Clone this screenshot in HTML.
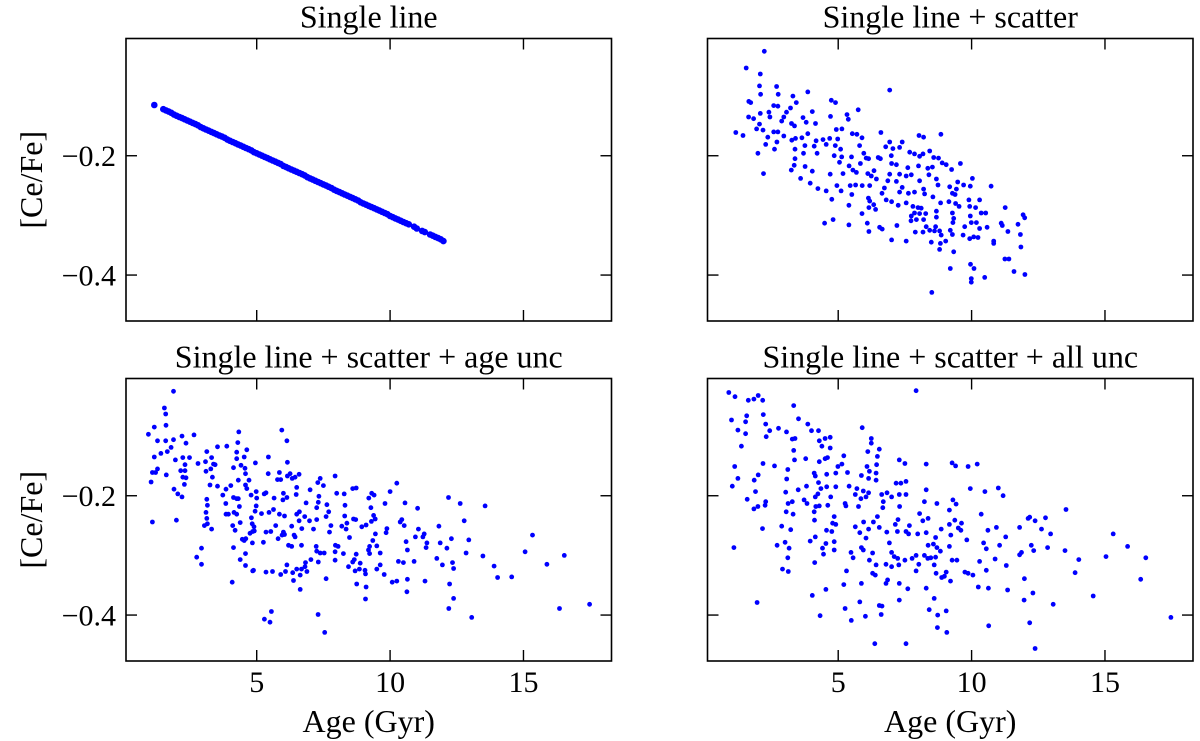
<!DOCTYPE html>
<html><head><meta charset="utf-8"><style>
html,body{margin:0;padding:0;background:#fff;}
svg{display:block;}
text{font-family:"Liberation Serif","DejaVu Serif","Noto Serif CJK SC",serif;fill:#000;}
</style></head><body>
<svg id="fig" width="1200" height="741" viewBox="0 0 1200 741" xmlns="http://www.w3.org/2000/svg" font-family="'Liberation Serif','DejaVu Serif',serif"></svg>
<script>
// ---- data ----
const lineAges=[1.16,1.5,1.6,1.7,1.8,1.9,2.0,2.1,2.2,2.3,2.4,2.5,2.6,2.7,2.8,2.9,3.0,3.1,3.2,3.3,3.4,3.5,3.6,3.7,3.8,3.9,4.0,4.1,4.2,4.3,4.4,4.5,4.6,4.7,4.8,4.9,5.0,5.1,5.2,5.3,5.4,5.5,5.6,5.7,5.8,5.9,6.0,6.1,6.2,6.3,6.4,6.5,6.6,6.7,6.8,6.9,7.0,7.1,7.2,7.3,7.4,7.5,7.6,7.7,7.8,7.9,8.0,8.1,8.2,8.3,8.4,8.5,8.6,8.7,8.8,8.9,9.0,9.1,9.2,9.3,9.4,9.5,9.6,9.7,9.8,9.9,10.0,10.1,10.2,10.3,10.4,10.5,10.6,10.7,10.9,11.0,11.2,11.3,11.5,11.6,11.7,11.8,11.9,12.0];
const lineVals=[-0.115,-0.122,-0.124,-0.126,-0.128,-0.131,-0.133,-0.135,-0.137,-0.139,-0.141,-0.143,-0.145,-0.147,-0.149,-0.152,-0.154,-0.156,-0.158,-0.160,-0.162,-0.164,-0.166,-0.168,-0.170,-0.173,-0.175,-0.177,-0.179,-0.181,-0.183,-0.185,-0.187,-0.189,-0.191,-0.194,-0.196,-0.198,-0.200,-0.202,-0.204,-0.206,-0.208,-0.210,-0.212,-0.214,-0.217,-0.219,-0.221,-0.223,-0.225,-0.227,-0.229,-0.231,-0.233,-0.236,-0.238,-0.240,-0.242,-0.244,-0.246,-0.248,-0.250,-0.252,-0.254,-0.257,-0.259,-0.261,-0.263,-0.265,-0.267,-0.269,-0.271,-0.273,-0.275,-0.278,-0.280,-0.282,-0.284,-0.286,-0.288,-0.290,-0.292,-0.294,-0.296,-0.298,-0.301,-0.303,-0.305,-0.307,-0.309,-0.311,-0.313,-0.315,-0.319,-0.322,-0.326,-0.328,-0.332,-0.334,-0.336,-0.338,-0.340,-0.343];

const scatterPts=[[2.23,-0.025],[1.55,-0.053],[2.08,-0.063],[2.05,-0.083],[2.69,-0.084],[2.09,-0.097],[2.75,-0.097],[3.86,-0.093],[3.3,-0.1],[3.43,-0.111],[1.65,-0.109],[1.72,-0.111],[2.58,-0.116],[2.74,-0.117],[3.21,-0.12],[2.4,-0.127],[2.08,-0.129],[1.64,-0.135],[1.83,-0.138],[2.44,-0.135],[3.06,-0.127],[2.96,-0.135],[2.88,-0.142],[2.05,-0.147],[1.94,-0.155],[2.18,-0.157],[1.16,-0.161],[1.43,-0.166],[2.58,-0.16],[2.74,-0.16],[2.36,-0.169],[2.7,-0.177],[2.96,-0.167],[2.28,-0.181],[2.61,-0.189],[1.99,-0.196],[2.2,-0.23],[3.25,-0.146],[3.36,-0.15],[3.68,-0.136],[3.8,-0.144],[4.03,-0.126],[4.15,-0.146],[3.86,-0.163],[3.4,-0.171],[3.64,-0.17],[3.26,-0.174],[3.38,-0.189],[3.75,-0.183],[3.7,-0.196],[4.1,-0.184],[4.17,-0.175],[4.21,-0.196],[3.38,-0.205],[3.35,-0.216],[3.24,-0.224],[3.76,-0.218],[4.03,-0.226],[3.59,-0.238],[3.95,-0.246],[4.24,-0.255],[4.55,-0.259],[4.49,-0.313],[4.81,-0.307],[4.76,-0.273],[4.95,-0.25],[5.11,-0.259],[4.7,-0.231],[4.74,-0.107],[4.9,-0.111],[4.71,-0.134],[4.43,-0.173],[4.55,-0.181],[4.68,-0.171],[4.93,-0.156],[5.14,-0.155],[4.98,-0.172],[4.89,-0.183],[5.09,-0.189],[4.85,-0.2],[5.13,-0.202],[5.05,-0.211],[5.18,-0.23],[5.33,-0.131],[5.38,-0.139],[5.75,-0.123],[5.53,-0.163],[5.7,-0.164],[5.89,-0.17],[5.8,-0.183],[5.5,-0.202],[5.41,-0.217],[5.55,-0.224],[5.68,-0.228],[5.45,-0.25],[5.65,-0.249],[5.9,-0.25],[5.51,-0.265],[5.4,-0.283],[5.4,-0.316],[5.89,-0.297],[5.96,-0.196],[6.05,-0.204],[6.14,-0.205],[5.83,-0.213],[6.11,-0.23],[6.24,-0.234],[6.34,-0.225],[6.43,-0.239],[6.18,-0.25],[6.13,-0.271],[6.18,-0.276],[6.33,-0.282],[6.15,-0.287],[6.4,-0.29],[6.09,-0.313],[6.15,-0.327],[6.6,-0.161],[6.5,-0.203],[6.58,-0.205],[6.73,-0.254],[6.64,-0.263],[6.8,-0.274],[6.55,-0.32],[6.65,-0.323],[6.78,-0.185],[6.93,-0.177],[7.05,-0.188],[7.3,-0.186],[6.99,-0.2],[7.0,-0.213],[7.18,-0.215],[6.93,-0.231],[6.86,-0.242],[7.18,-0.243],[7.3,-0.231],[7.4,-0.177],[6.93,-0.09],[7.0,-0.277],[7.25,-0.283],[7.2,-0.317],[7.0,-0.341],[7.55,-0.343],[7.3,-0.261],[7.4,-0.253],[7.55,-0.234],[7.61,-0.22],[7.74,-0.232],[7.68,-0.194],[7.86,-0.197],[8.05,-0.201],[8.18,-0.197],[8.03,-0.166],[8.2,-0.169],[8.43,-0.192],[8.58,-0.203],[8.85,-0.164],[8.76,-0.204],[8.9,-0.212],[9.05,-0.215],[8.36,-0.221],[8.53,-0.219],[8.01,-0.217],[8.05,-0.242],[8.2,-0.256],[8.24,-0.264],[8.55,-0.269],[8.4,-0.232],[8.68,-0.239],[8.74,-0.249],[7.63,-0.263],[7.86,-0.261],[7.55,-0.279],[7.8,-0.285],[7.99,-0.287],[8.11,-0.288],[7.86,-0.296],[8.05,-0.297],[8.28,-0.297],[7.74,-0.301],[7.73,-0.309],[7.93,-0.307],[8.2,-0.307],[8.3,-0.319],[7.89,-0.328],[8.18,-0.328],[8.43,-0.325],[8.68,-0.293],[8.68,-0.303],[8.84,-0.279],[8.65,-0.319],[8.61,-0.326],[8.8,-0.326],[8.86,-0.333],[8.49,-0.345],[8.83,-0.347],[9.03,-0.343],[8.8,-0.357],[8.51,-0.429],[9.18,-0.252],[9.28,-0.263],[9.38,-0.265],[9.15,-0.277],[9.4,-0.28],[9.53,-0.285],[9.28,-0.296],[9.33,-0.305],[9.3,-0.312],[9.2,-0.325],[9.28,-0.332],[9.33,-0.361],[9.2,-0.389],[9.48,-0.244],[9.43,-0.256],[9.25,-0.223],[9.58,-0.213],[9.7,-0.249],[9.74,-0.319],[9.68,-0.333],[9.9,-0.274],[9.93,-0.285],[9.95,-0.301],[9.99,-0.312],[9.93,-0.339],[10.03,-0.238],[9.95,-0.251],[10.15,-0.287],[10.18,-0.312],[10.3,-0.274],[10.36,-0.296],[10.53,-0.296],[10.3,-0.322],[10.58,-0.32],[10.08,-0.336],[10.24,-0.337],[9.96,-0.382],[10.09,-0.389],[9.99,-0.406],[9.99,-0.412],[10.49,-0.404],[10.73,-0.251],[10.83,-0.343],[10.83,-0.347],[11.11,-0.313],[11.15,-0.317],[11.26,-0.287],[11.25,-0.373],[11.4,-0.373],[11.36,-0.327],[11.59,-0.394],[11.74,-0.315],[11.83,-0.332],[11.85,-0.353],[11.93,-0.299],[11.99,-0.304],[12.0,-0.399]];

const ageUncPts=[[1.88,-0.025],[1.54,-0.053],[1.59,-0.063],[1.6,-0.082],[1.16,-0.085],[0.94,-0.097],[1.28,-0.108],[1.59,-0.108],[1.88,-0.106],[2.2,-0.1],[2.65,-0.098],[1.79,-0.119],[2.35,-0.112],[1.41,-0.129],[1.65,-0.126],[1.16,-0.135],[1.95,-0.14],[2.23,-0.136],[2.48,-0.136],[2.31,-0.148],[2.15,-0.158],[2.31,-0.158],[1.28,-0.155],[1.09,-0.161],[1.21,-0.161],[1.61,-0.165],[2.23,-0.169],[2.35,-0.17],[1.04,-0.177],[2.29,-0.181],[1.9,-0.189],[2.04,-0.197],[2.2,-0.202],[1.99,-0.241],[1.09,-0.244],[2.8,-0.146],[3.13,-0.126],[3.08,-0.143],[3.31,-0.136],[3.38,-0.147],[3.44,-0.148],[3.28,-0.155],[3.1,-0.159],[3.34,-0.169],[3.53,-0.118],[3.88,-0.117],[3.25,-0.182],[3.53,-0.184],[3.13,-0.206],[3.15,-0.216],[3.1,-0.228],[3.13,-0.238],[3.15,-0.247],[3.04,-0.25],[3.31,-0.256],[2.75,-0.303],[2.93,-0.288],[2.93,-0.315],[3.73,-0.199],[3.85,-0.189],[4.03,-0.183],[3.84,-0.213],[3.85,-0.231],[3.94,-0.231],[4.15,-0.228],[4.13,-0.203],[4.25,-0.205],[4.31,-0.205],[4.35,-0.218],[4.1,-0.25],[4.19,-0.258],[4.38,-0.245],[4.25,-0.231],[4.13,-0.287],[4.08,-0.345],[4.33,-0.093],[4.29,-0.111],[4.25,-0.127],[4.25,-0.138],[4.13,-0.153],[4.41,-0.149],[4.56,-0.154],[4.63,-0.123],[4.53,-0.135],[4.58,-0.163],[4.31,-0.174],[4.71,-0.174],[4.58,-0.182],[4.63,-0.188],[4.79,-0.199],[4.95,-0.145],[4.98,-0.193],[5.0,-0.204],[4.98,-0.217],[4.94,-0.226],[4.8,-0.237],[4.83,-0.247],[4.9,-0.252],[4.85,-0.26],[4.91,-0.259],[4.75,-0.263],[4.46,-0.273],[4.53,-0.275],[4.59,-0.272],[4.84,-0.279],[4.58,-0.297],[4.38,-0.307],[4.58,-0.317],[4.88,-0.325],[5.35,-0.195],[5.28,-0.197],[5.18,-0.23],[5.35,-0.261],[5.25,-0.278],[5.44,-0.135],[5.43,-0.163],[5.53,-0.26],[5.65,-0.204],[5.63,-0.223],[5.46,-0.228],[5.71,-0.25],[5.85,-0.161],[5.78,-0.173],[5.9,-0.173],[5.98,-0.207],[6.0,-0.196],[5.85,-0.231],[6.04,-0.234],[5.8,-0.272],[6.0,-0.261],[5.95,-0.266],[6.04,-0.265],[5.94,-0.09],[6.13,-0.108],[6.15,-0.144],[6.15,-0.167],[6.25,-0.163],[6.33,-0.171],[6.44,-0.169],[6.59,-0.164],[6.13,-0.203],[6.5,-0.186],[6.48,-0.198],[6.31,-0.251],[6.4,-0.266],[6.44,-0.269],[6.19,-0.283],[6.31,-0.285],[6.68,-0.283],[6.69,-0.255],[6.5,-0.231],[6.6,-0.227],[6.59,-0.242],[6.8,-0.235],[6.85,-0.212],[7.0,-0.19],[6.98,-0.242],[7.13,-0.256],[7.25,-0.24],[7.25,-0.22],[7.31,-0.211],[7.33,-0.201],[7.29,-0.178],[7.38,-0.171],[7.5,-0.183],[7.63,-0.215],[7.7,-0.227],[7.6,-0.235],[7.78,-0.25],[7.73,-0.261],[7.94,-0.167],[8.0,-0.196],[8.28,-0.197],[8.31,-0.216],[8.3,-0.234],[8.38,-0.246],[8.35,-0.256],[8.19,-0.251],[8.48,-0.27],[8.63,-0.239],[8.71,-0.24],[8.6,-0.188],[8.73,-0.187],[7.23,-0.285],[7.25,-0.293],[7.38,-0.296],[7.53,-0.296],[7.31,-0.311],[7.03,-0.307],[6.83,-0.312],[6.81,-0.319],[6.88,-0.327],[6.68,-0.323],[6.5,-0.323],[6.35,-0.329],[6.63,-0.333],[6.38,-0.342],[6.63,-0.357],[6.08,-0.327],[5.9,-0.332],[6.13,-0.316],[5.59,-0.327],[5.35,-0.328],[4.85,-0.326],[7.6,-0.339],[7.95,-0.283],[8.05,-0.285],[7.94,-0.294],[7.94,-0.308],[8.25,-0.297],[8.44,-0.319],[8.6,-0.311],[8.66,-0.307],[8.73,-0.298],[8.88,-0.313],[8.85,-0.323],[8.69,-0.326],[9.06,-0.325],[9.08,-0.331],[8.75,-0.348],[9.1,-0.353],[9.08,-0.373],[8.94,-0.252],[9.1,-0.249],[9.2,-0.204],[9.28,-0.22],[9.31,-0.196],[9.4,-0.199],[9.38,-0.233],[9.44,-0.239],[9.3,-0.243],[9.35,-0.275],[9.23,-0.285],[9.19,-0.291],[9.23,-0.297],[9.5,-0.284],[9.63,-0.296],[9.63,-0.316],[9.5,-0.323],[9.45,-0.264],[9.78,-0.332],[9.81,-0.213],[9.88,-0.255],[9.85,-0.262],[10.0,-0.193],[10.25,-0.179],[10.08,-0.345],[10.25,-0.343],[10.31,-0.31],[10.38,-0.244],[10.44,-0.24],[10.53,-0.25],[10.56,-0.212],[10.6,-0.277],[10.65,-0.291],[10.5,-0.312],[10.65,-0.34],[10.63,-0.361],[10.9,-0.31],[10.95,-0.269],[11.03,-0.221],[11.06,-0.256],[11.23,-0.269],[11.28,-0.264],[11.38,-0.279],[11.35,-0.287],[11.31,-0.343],[11.83,-0.251],[11.88,-0.279],[11.75,-0.305],[11.96,-0.316],[12.13,-0.288],[12.19,-0.203],[12.3,-0.272],[12.34,-0.312],[12.38,-0.322],[12.23,-0.348],[12.38,-0.372],[12.2,-0.389],[12.63,-0.213],[12.78,-0.242],[12.85,-0.296],[12.95,-0.274],[13.06,-0.404],[13.48,-0.301],[13.56,-0.217],[13.9,-0.318],[14.03,-0.337],[14.56,-0.336],[15.06,-0.294],[15.34,-0.266],[15.88,-0.315],[16.35,-0.389],[16.53,-0.3],[17.48,-0.382],[5.29,-0.407],[5.5,-0.412],[5.55,-0.394],[7.3,-0.399],[7.55,-0.429]];

const allUncPts=[[0.9,-0.027],[1.13,-0.034],[1.63,-0.04],[1.84,-0.038],[2.0,-0.032],[2.17,-0.04],[1.0,-0.073],[1.24,-0.09],[1.53,-0.076],[1.57,-0.066],[1.53,-0.096],[1.37,-0.117],[2.19,-0.064],[2.28,-0.08],[2.43,-0.091],[2.3,-0.101],[2.76,-0.087],[3.06,-0.093],[3.33,-0.049],[3.51,-0.071],[3.86,-0.08],[4.0,-0.091],[4.26,-0.091],[3.28,-0.105],[3.38,-0.104],[4.29,-0.108],[4.51,-0.104],[4.7,-0.102],[4.39,-0.117],[4.7,-0.12],[3.33,-0.124],[3.36,-0.14],[3.78,-0.138],[4.29,-0.143],[4.51,-0.138],[4.6,-0.136],[5.9,-0.086],[6.24,-0.104],[6.24,-0.112],[6.54,-0.122],[6.11,-0.126],[7.92,-0.024],[5.21,-0.133],[4.99,-0.151],[5.14,-0.147],[4.91,-0.162],[5.35,-0.161],[5.41,-0.184],[4.57,-0.164],[4.1,-0.162],[4.14,-0.167],[4.26,-0.178],[4.35,-0.188],[4.57,-0.185],[4.91,-0.185],[4.24,-0.197],[4.14,-0.202],[4.72,-0.202],[4.29,-0.217],[4.61,-0.216],[4.16,-0.218],[4.1,-0.227],[4.11,-0.241],[4.85,-0.235],[4.79,-0.246],[4.56,-0.258],[4.76,-0.26],[4.91,-0.248],[4.14,-0.269],[3.95,-0.276],[4.54,-0.28],[4.85,-0.277],[4.41,-0.288],[4.85,-0.291],[4.45,-0.298],[4.12,-0.312],[4.03,-0.367],[4.54,-0.357],[4.32,-0.401],[1.96,-0.379],[1.09,-0.287],[1.84,-0.222],[1.99,-0.218],[2.26,-0.216],[2.28,-0.21],[1.59,-0.206],[1.9,-0.193],[1.03,-0.184],[1.24,-0.171],[1.12,-0.151],[2.16,-0.255],[2.0,-0.165],[1.85,-0.174],[2.18,-0.146],[2.61,-0.15],[3.11,-0.156],[3.07,-0.172],[3.03,-0.194],[3.12,-0.213],[3.28,-0.21],[3.05,-0.227],[3.31,-0.231],[3.22,-0.257],[2.88,-0.251],[2.71,-0.283],[3.01,-0.278],[3.16,-0.288],[3.11,-0.304],[2.91,-0.323],[3.13,-0.327],[3.5,-0.19],[3.72,-0.207],[3.83,-0.213],[3.81,-0.184],[5.26,-0.213],[5.29,-0.217],[5.64,-0.198],[5.7,-0.188],[5.87,-0.166],[6.08,-0.151],[6.17,-0.159],[6.14,-0.171],[6.42,-0.162],[6.44,-0.148],[6.47,-0.134],[6.42,-0.174],[5.94,-0.192],[5.85,-0.205],[6.04,-0.202],[6.14,-0.195],[5.76,-0.218],[5.64,-0.252],[5.81,-0.262],[5.95,-0.244],[6.14,-0.256],[6.04,-0.271],[5.87,-0.287],[5.94,-0.291],[5.48,-0.295],[5.56,-0.304],[6.29,-0.296],[6.17,-0.308],[6.32,-0.244],[6.54,-0.253],[6.47,-0.235],[6.63,-0.198],[6.69,-0.21],[6.67,-0.22],[6.83,-0.195],[7.0,-0.202],[7.29,-0.198],[7.3,-0.218],[7.17,-0.179],[7.35,-0.179],[7.54,-0.176],[7.54,-0.198],[7.29,-0.14],[7.5,-0.146],[7.14,-0.248],[7.24,-0.24],[7.22,-0.26],[6.82,-0.261],[6.92,-0.279],[7.0,-0.295],[7.1,-0.302],[7.23,-0.305],[7.27,-0.316],[7.0,-0.319],[6.79,-0.315],[6.42,-0.316],[6.29,-0.33],[6.39,-0.333],[6.85,-0.341],[6.79,-0.347],[7.29,-0.347],[7.61,-0.356],[7.29,-0.375],[6.54,-0.384],[6.64,-0.385],[6.61,-0.399],[6.02,-0.402],[5.81,-0.378],[5.87,-0.347],[5.21,-0.349],[5.31,-0.326],[5.26,-0.389],[5.49,-0.409],[6.37,-0.448],[7.54,-0.448],[7.67,-0.25],[7.54,-0.26],[7.64,-0.264],[7.98,-0.264],[8.05,-0.23],[8.17,-0.242],[8.3,-0.262],[8.37,-0.238],[8.23,-0.21],[8.3,-0.19],[8.3,-0.147],[7.77,-0.305],[7.92,-0.3],[7.5,-0.308],[8.02,-0.315],[7.92,-0.326],[8.23,-0.3],[8.36,-0.305],[8.47,-0.304],[8.65,-0.303],[8.37,-0.283],[8.57,-0.281],[8.7,-0.287],[8.83,-0.293],[8.65,-0.27],[8.3,-0.355],[8.6,-0.316],[8.67,-0.33],[8.88,-0.337],[8.98,-0.335],[9.21,-0.343],[9.05,-0.328],[8.6,-0.372],[8.41,-0.391],[8.73,-0.4],[8.72,-0.421],[9.07,-0.429],[9.05,-0.393],[8.86,-0.256],[9.17,-0.248],[9.22,-0.266],[9.17,-0.285],[9.27,-0.308],[9.45,-0.308],[9.37,-0.241],[9.5,-0.254],[9.62,-0.246],[9.6,-0.258],[9.17,-0.224],[9.3,-0.207],[9.42,-0.214],[9.27,-0.145],[9.4,-0.15],[8.7,-0.213],[9.82,-0.274],[9.75,-0.328],[9.87,-0.33],[10.05,-0.333],[9.95,-0.188],[9.87,-0.151],[10.21,-0.147],[10.25,-0.353],[10.3,-0.31],[10.36,-0.231],[10.5,-0.193],[10.45,-0.279],[10.55,-0.289],[10.61,-0.258],[10.55,-0.325],[10.63,-0.355],[10.64,-0.418],[10.88,-0.306],[10.93,-0.253],[11.0,-0.187],[11.18,-0.2],[11.05,-0.283],[11.28,-0.269],[11.3,-0.317],[11.35,-0.358],[11.8,-0.253],[11.8,-0.299],[11.87,-0.295],[11.98,-0.339],[11.97,-0.375],[12.12,-0.238],[12.18,-0.236],[12.24,-0.283],[12.33,-0.292],[12.38,-0.242],[12.3,-0.363],[12.18,-0.413],[12.38,-0.456],[12.62,-0.256],[12.77,-0.237],[12.96,-0.264],[12.85,-0.287],[13.06,-0.382],[13.5,-0.292],[13.54,-0.223],[13.88,-0.329],[14.02,-0.307],[14.56,-0.368],[15.04,-0.302],[15.31,-0.264],[15.85,-0.285],[16.34,-0.34],[16.53,-0.304],[17.47,-0.404]];

const panelTitles=["Single line","Single line + scatter","Single line + scatter + age unc","Single line + scatter + all unc"];
const xTicks=[5,10,15];
const xTickLabels=["5","10","15"];
const yTicks=[-0.2,-0.4];
const yTickLabels=["\u22120.2","\u22120.4"];
const X_MIN=0.1, X_MAX=18.3, Y_MIN=-0.477, Y_MAX=-0.0035;

const NS="http://www.w3.org/2000/svg";
const FONT="'Liberation Serif','DejaVu Serif',serif";
const svg=document.getElementById('fig');
function mk(tag,attrs,parent){const e=document.createElementNS(NS,tag);for(const k in attrs)e.setAttribute(k,attrs[k]);if(tag==='text')e.setAttribute('font-family',FONT);(parent||svg).appendChild(e);return e;}

const PW=485.5, PH=282.5;
const lefts=[126,707.5], tops=[38.5,378.5];

function drawPanel(idx,ages,vals,r){
  const L=lefts[idx%2], T=tops[Math.floor(idx/2)];
  const sx=v=>L+(v-X_MIN)/(X_MAX-X_MIN)*PW;
  const sy=v=>T+(Y_MAX-v)/(Y_MAX-Y_MIN)*PH;
  const g=mk('g',{});
  
  
  const pts=mk('g',{fill:'#0000ff'},g);
  
  
  for(let i=0;i<ages.length;i++){
    const c=mk('circle',{cx:sx(ages[i]).toFixed(1),cy:sy(vals[i]).toFixed(1),r:r},pts);
    
    
  }
  const fr=mk('rect',{x:L,y:T,width:PW,height:PH,fill:'none',stroke:'#000','stroke-width':1.6},g);
  
  
  const TL=11;
  xTicks.forEach((t,i)=>{
    const x=sx(t);
    const a=mk('line',{x1:x,x2:x,y1:T+PH,y2:T+PH-TL,stroke:'#000','stroke-width':1.4},g);
    
    
    const b=mk('line',{x1:x,x2:x,y1:T,y2:T+TL,stroke:'#000','stroke-width':1.4},g);
    
    
    if(idx>=2){
      const tx=mk('text',{x:x,y:T+PH+31,'font-size':30,'text-anchor':'middle'},g);
      tx.textContent=xTickLabels[i];
      
      
    }
  });
  yTicks.forEach((t,i)=>{
    const y=sy(t);
    const a=mk('line',{x1:L,x2:L+TL,y1:y,y2:y,stroke:'#000','stroke-width':1.4},g);
    
    
    const b=mk('line',{x1:L+PW,x2:L+PW-TL,y1:y,y2:y,stroke:'#000','stroke-width':1.4},g);
    
    
    if(idx%2===0){
      const tx=mk('text',{x:L-10,y:y+10.5,'font-size':30,'text-anchor':'end'},g);
      tx.textContent=yTickLabels[i];
      
      
    }
  });
  const ti=mk('text',{x:L+PW/2,y:T-11,'font-size':32,'text-anchor':'middle'},g);
  ti.textContent=panelTitles[idx];
  
  
  if(idx%2===0){
    const yl=mk('text',{x:0,y:0,'font-size':32,'text-anchor':'middle',transform:'translate(42,'+(T+PH/2)+') rotate(-90)'},g);
    yl.textContent='[Ce/Fe]';
    
    
  }
  if(idx>=2){
    const xl=mk('text',{x:L+PW/2,y:T+PH+71,'font-size':32,'text-anchor':'middle'},g);
    xl.textContent='Age (Gyr)';
    
    
  }
}
drawPanel(0,lineAges,lineVals,3.3);
drawPanel(1,scatterPts.map(p=>p[0]),scatterPts.map(p=>p[1]),2.4);
drawPanel(2,ageUncPts.map(p=>p[0]),ageUncPts.map(p=>p[1]),2.4);
drawPanel(3,allUncPts.map(p=>p[0]),allUncPts.map(p=>p[1]),2.4);
</script>
</body></html>
